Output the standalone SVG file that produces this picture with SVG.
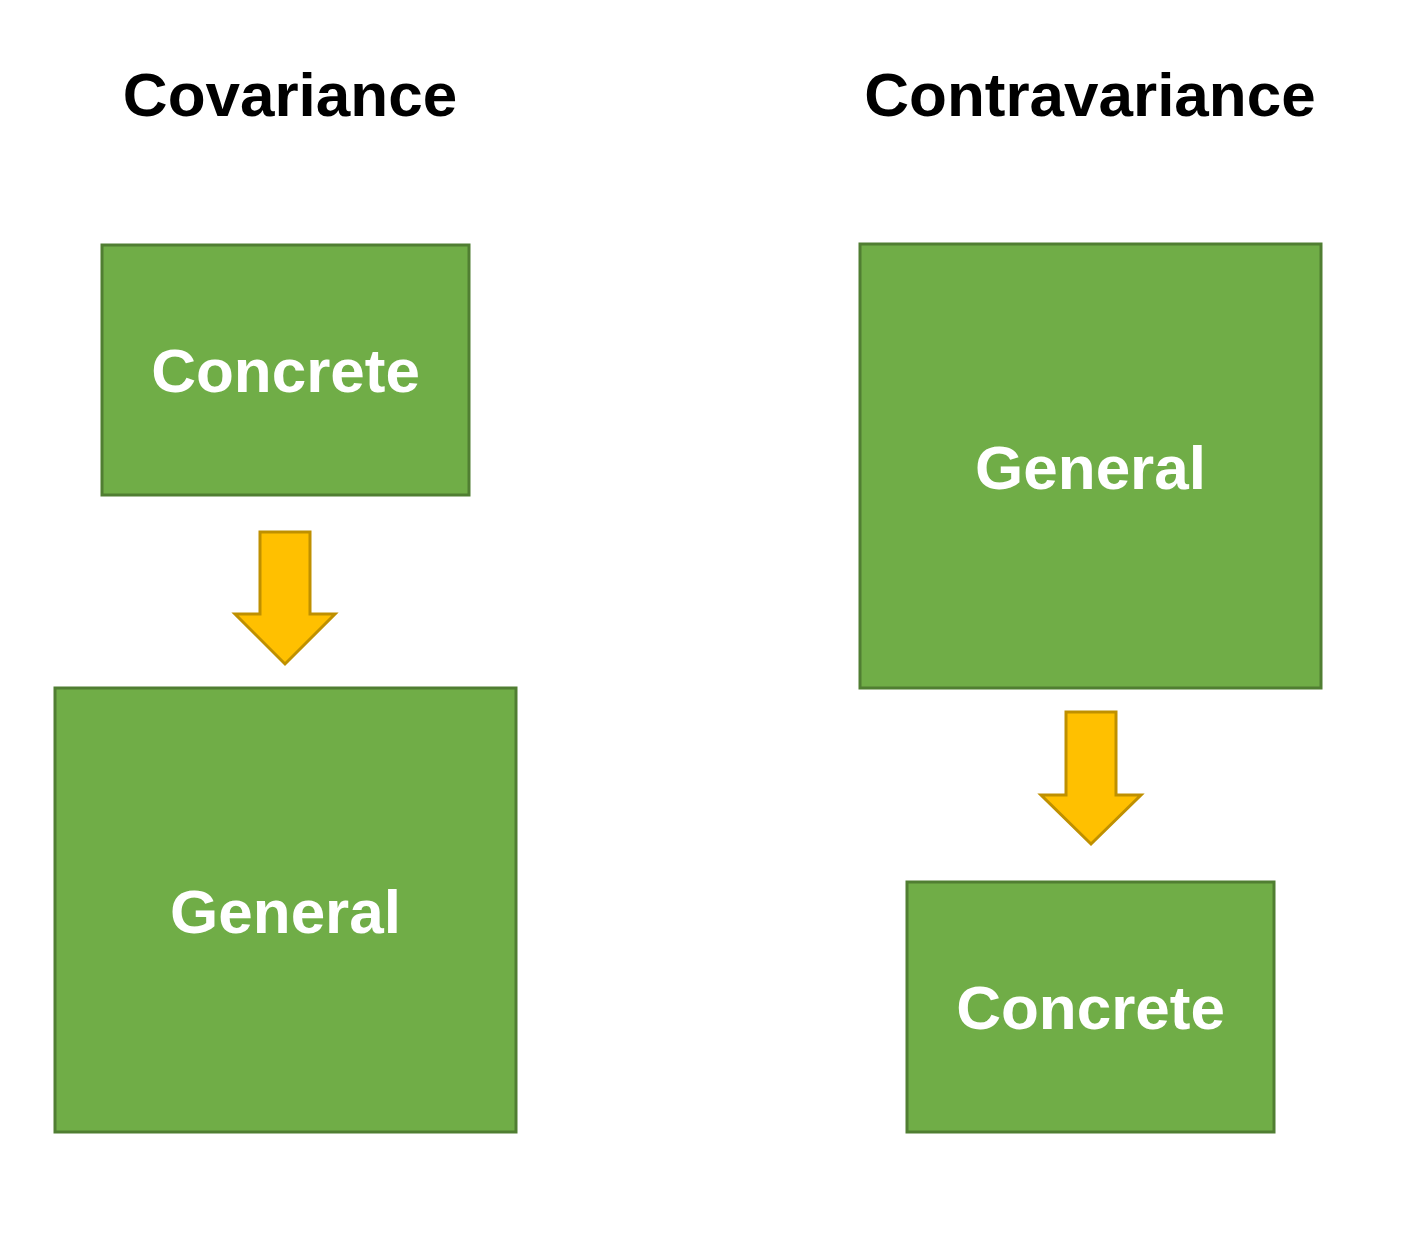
<svg xmlns="http://www.w3.org/2000/svg" width="1412" height="1238" viewBox="0 0 1412 1238">
<style>
.box{fill:#70ad47;stroke:#507e32;stroke-width:3}
.lbl{font-family:"Liberation Sans",Arial,sans-serif;font-weight:bold;font-size:62px;fill:#ffffff;text-anchor:middle}
.title{font-family:"Liberation Sans",Arial,sans-serif;font-weight:bold;font-size:62px;fill:#000000;text-anchor:middle}
.arrow{fill:#ffc000;stroke:#bf9000;stroke-width:3;stroke-linejoin:miter}
</style>
<rect width="1412" height="1238" fill="#ffffff"/>
<text class="title" x="290" y="116">Covariance</text>
<text class="title" x="1090" y="116">Contravariance</text>
<g id="cov-concrete"><rect class="box" x="102" y="245" width="367" height="250"/><text class="lbl" x="285.5" y="392">Concrete</text></g>
<g id="cov-general"><rect class="box" x="55" y="688" width="461" height="444"/><text class="lbl" x="285.5" y="933">General</text></g>
<g id="contra-general"><rect class="box" x="860" y="244" width="461" height="444"/><text class="lbl" x="1090.5" y="489">General</text></g>
<g id="contra-concrete"><rect class="box" x="907" y="882" width="367" height="250"/><text class="lbl" x="1090.5" y="1029">Concrete</text></g>
<g id="connectors">
<path class="arrow" d="M260,532 H310 V614 H335 L285,664 L235,614 H260 Z"/>
<path class="arrow" d="M1066,712 H1116 V795 H1141 L1091,844 L1041,795 H1066 Z"/>
</g>
</svg>
